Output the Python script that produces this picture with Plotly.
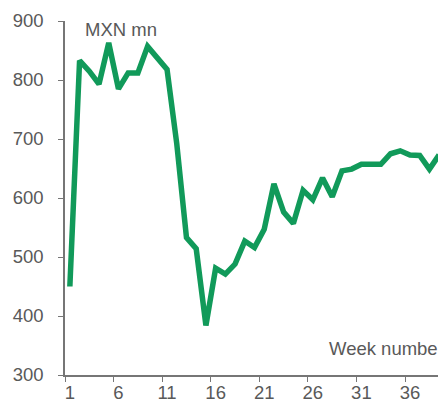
import plotly.graph_objects as go

weeks = [str(i) for i in range(1, 40)]
values = [450, 833, 815, 793, 863, 785, 812, 812, 857, 838, 818, 692, 533, 514,
          384, 481, 471, 488, 527, 516, 547, 624, 576, 557, 613, 597, 634, 602,
          646, 649, 657, 657, 657, 675, 680, 673, 672, 649, 673]
y_unit_label = "MXN mn"
x_label = "Week number"

FONT = "Liberation Sans, Arial, sans-serif"
FS = 18.5
GREY = "#595959"
AXIS = "#767676"
GREEN = "#119a5a"

fig = go.Figure()
fig.add_trace(go.Scatter(
    x=weeks, y=values, mode="lines",
    line=dict(color=GREEN, width=5.5),
    hoverinfo="skip", showlegend=False,
))

# page body has an 8px margin, so the figure is sized/offset to compensate
fig.update_layout(
    width=438, height=397,
    margin=dict(l=57, r=2, t=13, b=30),
    paper_bgcolor="white", plot_bgcolor="white",
    font=dict(family=FONT, size=FS, color=GREY),
    xaxis=dict(
        type="category", range=[-0.5, 38.5],
        tickmode="linear", tick0=0, dtick=5, tickson="boundaries",
        tickangle=0, automargin=False,
        ticks="outside", ticklen=5, tickcolor=AXIS, tickwidth=1.3,
        showline=True, linecolor=AXIS, linewidth=1.5,
        showgrid=False, zeroline=False,
        tickfont=dict(family=FONT, size=FS, color=GREY),
    ),
    yaxis=dict(
        range=[300, 900], tickmode="linear", tick0=300, dtick=100,
        automargin=False,
        ticks="outside", ticklen=5, tickcolor=AXIS, tickwidth=1.3,
        showline=True, linecolor=AXIS, linewidth=1.5,
        showgrid=False, zeroline=False,
        ticklabelstandoff=11,
        tickfont=dict(family=FONT, size=FS, color=GREY),
    ),
    annotations=[
        dict(text=y_unit_label, xref="paper", yref="paper", x=0.0475, y=0.975,
             xanchor="left", yanchor="middle", showarrow=False,
             font=dict(family=FONT, size=FS, color=GREY)),
        dict(text=x_label, xref="paper", yref="paper", x=0.691, y=0.076,
             xanchor="left", yanchor="middle", showarrow=False,
             font=dict(family=FONT, size=FS, color=GREY)),
    ],
)

fig.write_html("out.html")
